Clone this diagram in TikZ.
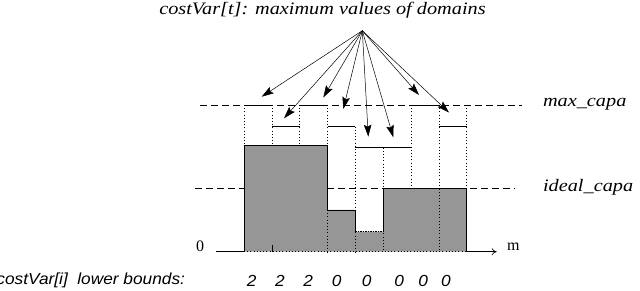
\documentclass[tikz,border=0pt]{standalone}
\usepackage{fontspec}
\setmainfont{Liberation Serif}
\setsansfont{Liberation Sans}
\newfontfamily\widserif[FakeStretch=1.16]{Liberation Serif}
\newfontfamily\widsans[FakeStretch=1.08]{Liberation Sans}
\usetikzlibrary{arrows.meta}
\definecolor{fillgray}{RGB}{150,150,150}

\begin{document}
\begin{tikzpicture}[
      x=1pt, y=-1pt,
      every node/.style={inner sep=0pt, outer sep=0pt},
      capa/.style={dash pattern=on 7pt off 4pt, line width=0.6pt},
      guide/.style={dash pattern=on 1pt off 2.2pt, line width=0.6pt},
      bound/.style={line width=0.6pt},
      ptr/.style={-{Stealth[length=12pt,width=7.5pt,inset=2pt]}, line width=0.5pt},
      serlab/.style={font=\fontsize{17.5}{20}\widserif\itshape},
      sanlab/.style={font=\fontsize{16}{18}\widsans\itshape}
    ]
    \useasboundingbox (0,0) rectangle (640,291);

    % capacity levels
    \coordinate (maxL) at (200,105);   \coordinate (maxR) at (522,105);
    \coordinate (idlL) at (195,188.7); \coordinate (idlR) at (515,188.7);
    \draw[capa] (maxL) -- (maxR);
    \draw[capa] (idlL) -- (idlR);
    \node[serlab, anchor=west] (maxlab) at (543,104) {max\_capa};
    \node[serlab, anchor=west] (idllab) at (543,187.7) {ideal\_capa};

    % column boundaries
    \foreach \k/\top in {0/105, 1/105, 2/105, 3/105, 4/126.7, 5/147.7, 6/105, 7/105, 8/105}{
      \draw[guide] (244+27.84*\k,\top) -- (244+27.84*\k,251.7);
    }

    % lower bounds
    \fill[fillgray] (244,251.7) -- (244,145.7) -- (327.5,145.7) -- (327.5,210)
      -- (355.4,210) -- (355.4,231.7) -- (383.2,231.7) -- (383.2,188.7)
      -- (466.7,188.7) -- (466.7,251.7) -- cycle;
    \foreach \k/\top in {3/210, 4/210, 5/188.7, 7/188.7}{
      \draw[guide] (244+27.84*\k,\top) -- (244+27.84*\k,251.7);
    }
    \draw[bound] (244,251.7) -- (244,145.7) -- (327.5,145.7) -- (327.5,210)
      -- (355.4,210) -- (355.4,231.7);
    \draw[bound] (383.2,231.7) -- (383.2,188.7) -- (466.7,188.7) -- (466.7,251.7);
    \draw[guide, dash pattern=on 1.5pt off 1pt] (355.4,231.7) -- (383.2,231.7);
    \draw[bound] (271.8,245) -- (271.8,251.7);

    % maximum values
    \foreach \k/\hi in {1/105, 2/126.7, 3/105, 4/126.7, 5/147.7, 6/147.7, 7/105, 8/126.7}{
      \draw[bound] (244+27.84*\k-27.84,\hi) -- (244+27.84*\k,\hi);
    }

    % axis
    \coordinate (axA) at (216,251.7);
    \coordinate (axB) at (244,251.7);
    \coordinate (axC) at (466.7,251.7);
    \coordinate (axD) at (496.7,251.7);
    \draw[bound] (axA) -- (axB);
    \draw[guide] (axB) -- (axC);
    \draw[bound, -{To[length=5pt,width=7pt]}] (axC) -- (axD);
    \node[font=\fontsize{16}{18}\selectfont] (zero) at (200,246.2) {0};
    \node[font=\fontsize{16}{18}\selectfont, anchor=west] (m) at (507,246.7) {m};

    % pointers to the domains
    \node[serlab, anchor=base] (title) at (322.5,15) {costVar[t]: maximum values of domains};
    \coordinate (src) at (362.3,30.7);
    \foreach \k/\tx/\ty in {1/261.7/96.7, 2/284/118.3, 3/323.3/97.5, 4/343.3/109,
                            5/368.3/136.7, 6/393.3/137.3, 7/419/95, 8/449/112.5}{
      \coordinate (tip\k) at (\tx,\ty);
      \draw[ptr] (src) -- (tip\k);
    }

    % lower bounds row
    \node[sanlab, anchor=east] (lowlab) at (185,280.7) {costVar[i]\ \ lower bounds:};
    \foreach \k/\x/\v in {1/251.7/2, 2/280/2, 3/308.3/2, 4/336.7/0,
                          5/366.7/0, 6/399.3/0, 7/423.3/0, 8/446/0}{
      \node[sanlab] (lb\k) at (\x,280.7) {\v};
    }
\end{tikzpicture}
\end{document}
